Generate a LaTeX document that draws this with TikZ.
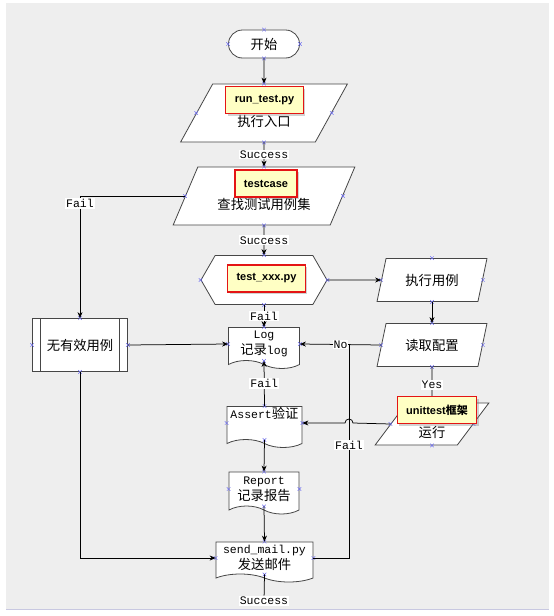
\documentclass[tikz,border=0pt]{standalone}
\usepackage{fontspec}
\setmainfont{Liberation Mono}
\setsansfont{Liberation Sans}
\newfontfamily\cjk{Noto Sans CJK SC}
\usetikzlibrary{arrows.meta,shapes.geometric,shapes.symbols,shapes.misc,shadows}
\definecolor{bggray}{RGB}{238,238,238}
\definecolor{tipfill}{RGB}{255,255,196}
\definecolor{tipred}{RGB}{228,20,20}
\definecolor{edgegray}{RGB}{70,70,70}
\definecolor{mkblue}{RGB}{110,110,240}
\definecolor{lavender}{RGB}{200,200,225}
\newcommand{\zh}[1]{{\fontsize{13.3}{16}\cjk #1}}

\begin{document}
\begin{tikzpicture}[->,>={Stealth[length=6pt,width=5pt]},x=1pt,y=-1pt,line width=0.75pt,
  box/.style={draw=edgegray,fill=white,line width=0.8pt,align=center,inner sep=0pt,
    font=\fontsize{11.5}{16}\selectfont},
  start node/.style={box,rounded rectangle,minimum width=71,minimum height=28},
  io node/.style={box,trapezium,trapezium stretches=true},
  low text/.style={text height=30pt,text depth=4pt},
  prep node/.style={box,signal,signal to=west and east,signal pointer angle=120,
    minimum width=126,minimum height=49},
  doc node/.style={box,tape,tape bend top=none,tape bend bottom=out and in,tape bend height=8pt},
  proc node/.style={box,rectangle,minimum width=95,minimum height=53,
    path picture={\draw[-,edgegray,line width=0.8pt]
      ([xshift=8pt]path picture bounding box.north west) -- ([xshift=8pt]path picture bounding box.south west)
      ([xshift=-8pt]path picture bounding box.north east) -- ([xshift=-8pt]path picture bounding box.south east);}},
  tip node/.style={draw=tipred,fill=tipfill,line width=1.2pt,inner xsep=9pt,minimum height=27,
    font=\sffamily\bfseries\fontsize{11}{13}\selectfont,
    drop shadow={shadow xshift=2pt,shadow yshift=-2pt,opacity=0.35}},
  lbl/.style={fill=white,inner sep=1pt,font=\fontsize{11.5}{13}\selectfont},
  mk/.style={cross out,draw=mkblue,minimum size=3pt,inner sep=0pt,line width=0.5pt}]

  \useasboundingbox (0,0) rectangle (554,616);
  \fill[bggray] (6,3) rectangle (549,609);
  \draw[-,lavender,line width=1.2pt] (6,609.5) -- (549,609.5);

  % main column
  \node[start node] (start) at (264,44) {\zh{开始}};
  \node[io node,low text,trapezium left angle=64,trapezium right angle=116,minimum width=168,minimum height=58]
    (entry) at (264,113) {\zh{执行入口}};
  \node[io node,low text,trapezium left angle=63,trapezium right angle=117,minimum width=182,minimum height=58]
    (cases) at (264,196) {\zh{查找测试用例集}};
  \node[prep node] (hex) at (264,280) {};
  \node[doc node,minimum width=71,minimum height=41] (log) at (264,344) {Log\\ \zh{记录}log};
  \node[doc node,minimum width=75,minimum height=41] (assert) at (264.5,423) {Assert\zh{验证}\\ \strut};
  \node[doc node,minimum width=70,minimum height=42] (report) at (264,489) {Report\\ \zh{记录报告}};
  \node[doc node,minimum width=97,minimum height=40] (mail) at (264.5,558) {send\_mail.py\\ \zh{发送邮件}};
  \node[lbl] (done) at (264,601) {Success};

  % side nodes
  \node[proc node] (nocase) at (80,345) {\zh{无有效用例}};
  \node[io node,trapezium left angle=67,trapezium right angle=113,minimum width=110,minimum height=43]
    (runcase) at (432,280) {\zh{执行用例}};
  \node[io node,trapezium left angle=67,trapezium right angle=113,minimum width=110,minimum height=43]
    (config) at (432,345) {\zh{读取配置}};
  \node[io node,low text,trapezium left angle=64,trapezium right angle=116,minimum width=114,minimum height=42]
    (exec) at (432,424) {\zh{运行}};
  \coordinate (join) at (349,345);

  % connection points
  \foreach \n in {start,entry,cases,hex,log,assert,report,mail,nocase,runcase,config,exec}
    \foreach \a in {north,south,east,west}
      \node[mk] at (\n.\a) {};

  \draw[-] (mail.east) -| node[lbl,pos=0.765] {Fail} (join);
  \draw (cases.west) -| node[lbl,pos=0.53] {Fail} (nocase.north);
  \draw (nocase.south) |- (mail.west);
  \draw (exec.west) -- (353,423) arc[start angle=0,end angle=-180,radius=4] -- (assert.east);
  \draw[-] (mail.south) -- (done);

  \path[every node/.style=lbl]
    (start.south) edge (entry.north)
    (entry.south) edge node {Success} (cases.north)
    (cases.south) edge node {Success} (hex.north)
    (hex.east) edge (runcase.west)
    (hex.south) edge node {Fail} (log.north)
    (runcase.south) edge (config.north)
    (config.west) edge node {No} (log.east)
    (config.south) edge node {Yes} (exec.north)
    (nocase.east) edge (log.west)
    (assert.north) edge node {Fail} (log.south)
    (assert.south) edge (report.north)
    (report.south) edge (mail.north)
    ;

  % callouts
  \node[tip node] (tip1) at (264.5,100) {run\_test.py};
  \node[tip node] (tip2) at (266,183.5) {testcase};
  \node[tip node] (tip3) at (266.5,278.5) {test\_xxx.py};
  \node[tip node] (tip4) at (437,410) {unittest{\cjk 框架}};

\end{tikzpicture}
\end{document}
